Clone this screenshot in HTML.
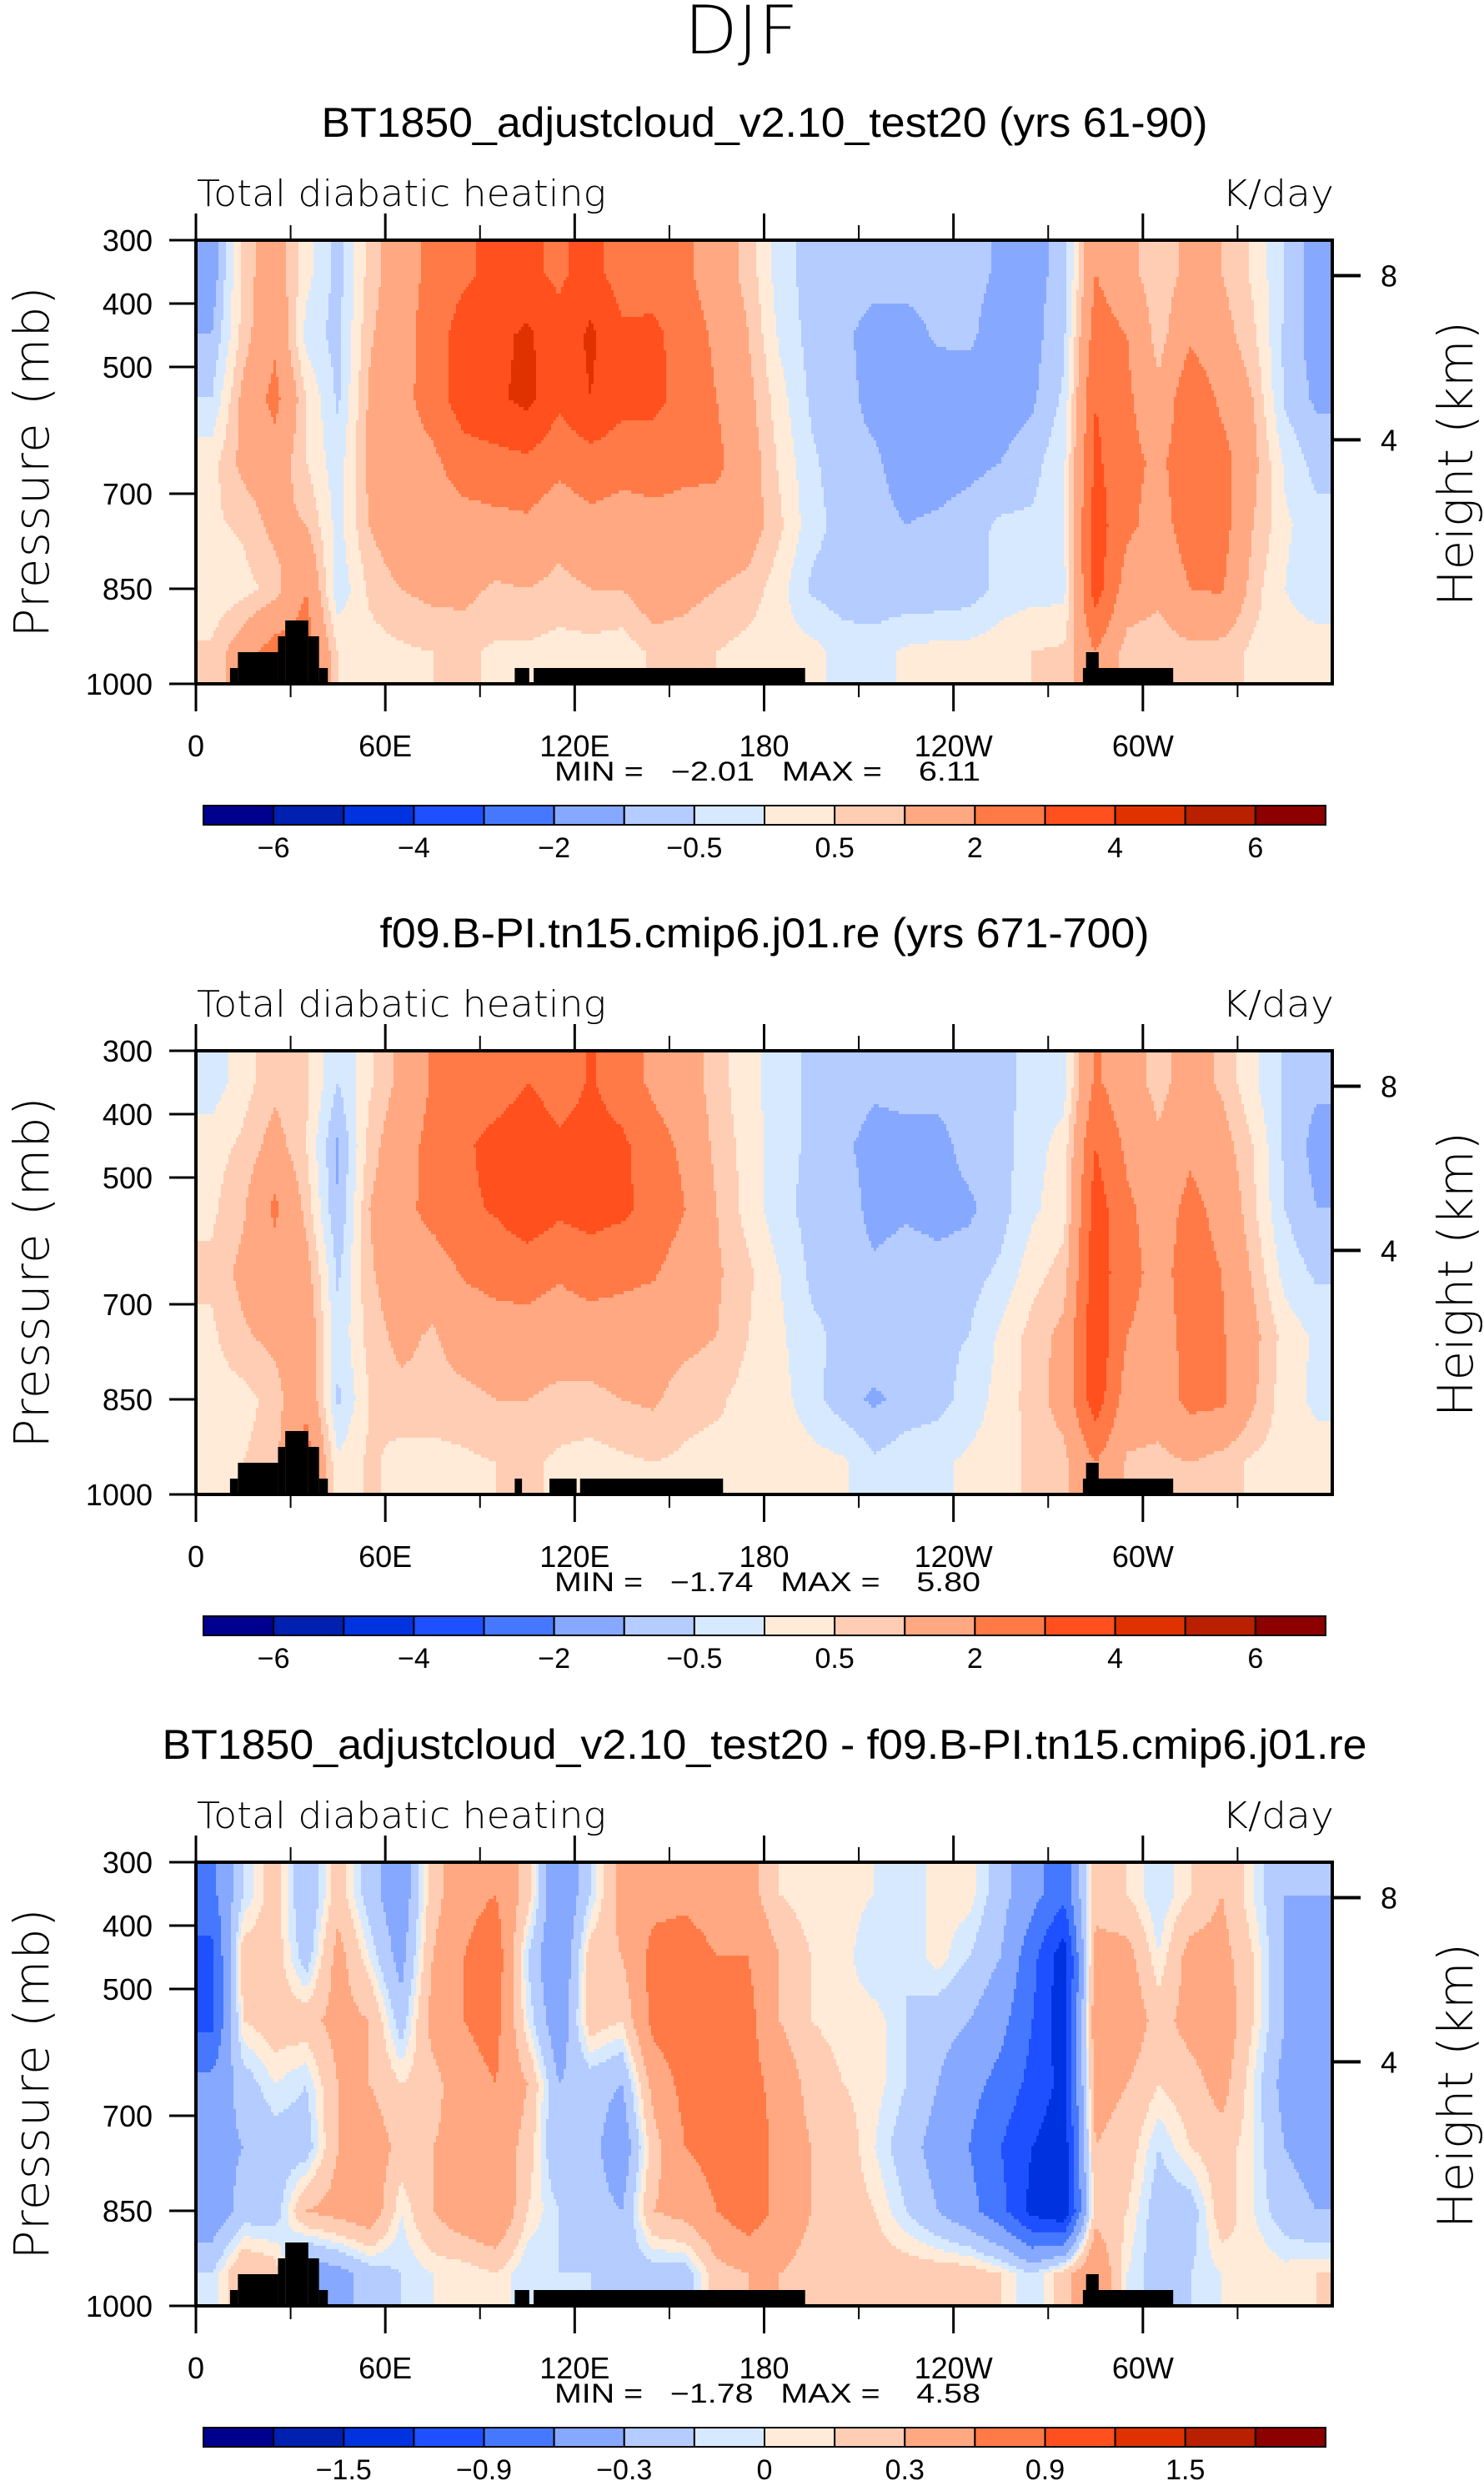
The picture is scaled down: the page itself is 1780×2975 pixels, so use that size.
<!DOCTYPE html>
<html><head><meta charset="utf-8"><title>DJF Total diabatic heating</title>
<style>
html,body{margin:0;padding:0;background:#fff;}
svg{display:block;}
text{font-family:"Liberation Sans","DejaVu Sans",sans-serif;fill:#000;}
.thin{font-family:"DejaVu Sans","Liberation Sans",sans-serif;font-weight:200;}
.pre{white-space:pre;}
</style></head>
<body>
<svg id="fig" xmlns="http://www.w3.org/2000/svg" width="1780" height="2975" viewBox="0 0 1780 2975">
<rect x="0" y="0" width="1780" height="2975" fill="#fff"/>
<text class="thin" x="889" y="64" font-size="80" text-anchor="middle" textLength="137" lengthAdjust="spacingAndGlyphs">DJF</text>
</svg>
<script>
// ---------- data ----------
const pressureCenters = [350,450,550,650,750,850,950];
const lonCenters = [5,15,25,35,45,55,65,75,85,95,105,115,125,135,145,155,165,175,185,195,205,215,225,235,245,255,265,275,285,295,305,315,325,335,345,355];
const panelTitles = ["BT1850_adjustcloud_v2.10_test20 (yrs 61-90)","f09.B-PI.tn15.cmip6.j01.re (yrs 671-700)","BT1850_adjustcloud_v2.10_test20 - f09.B-PI.tn15.cmip6.j01.re"];
const minValues = ["−2.01","−1.74","−1.78"];
const maxValues = ["6.11","5.80","4.58"];
const xTickLons = [0,60,120,180,240,300];
const xTickLabels = ["0","60E","120E","180","120W","60W"];
const xMinorLons = [30,90,150,210,270,330];
const yTickPressures = [300,400,500,700,850,1000];
const heightTicksKm = [8,4];
const heightTickPressures = [356,615];
const levelsAbs = [-6,-5,-4,-3,-2,-1,-0.5,0,0.5,1,2,3,4,5,6];
const levelsDiff = [-1.8,-1.5,-1.2,-0.9,-0.6,-0.3,-0.1,0,0.1,0.3,0.6,0.9,1.2,1.5,1.8];
const cbarLabelsAbs = ["−6","−4","−2","−0.5","0.5","2","4","6"];
const cbarLabelsDiff = ["−1.5","−0.9","−0.3","0","0.3","0.9","1.5"];
const fillColors = ["#00008f","#0020b0","#0033e0","#1e50ff","#4678ff","#86a8ff","#b4ccff","#d7e9ff","#ffebd8","#ffcdb3","#ffa882","#ff7a46","#ff501e","#e03200","#b82000","#8c0000"];
// topography [lonStart, lonEnd, topPressure]
const topo1 = [[10.8,13.3,975],[13.3,26,950],[26,28.3,925],[28.3,35.6,900],[35.6,39,925],[39,41.8,975],[101,105.6,975],[107,193,975],[282,286,950],[281,309.6,975]];
const topo2 = [[10.8,13.3,975],[13.3,26,950],[26,28.3,925],[28.3,35.6,900],[35.6,39,925],[39,41.8,975],[101,103.3,975],[112,120.6,975],[121.7,167,975],[282,286,950],[281,309.6,975]];
// field values: one array per longitude column, top (350mb) to bottom (950mb)
const field1 = [
[-1.4,-1.0,-0.5,0.3,0.4,0.1,0.6],[0.7,0.7,1.2,1.2,0.6,0.3,1.5],[1.5,1.8,2.3,1.5,1.2,0.7,2.5],[0.2,-0.2,0.5,0.5,1.0,2.0,2.5],
[-0.7,-0.7,-0.6,-0.3,-0.2,-0.4,0.5],[0.7,0.9,1.1,1.2,1.0,0.6,0.3],[1.5,1.6,1.7,1.6,1.6,1.0,0.4],[2.3,2.5,2.4,1.8,1.5,1.2,0.5],
[2.8,3.5,3.6,2.5,1.6,1.2,0.6],[3.3,3.7,3.8,2.7,1.7,0.9,0.4],[3.2,4.2,4.3,2.8,1.8,1.0,0.4],[2.8,3.3,3.2,2.3,1.3,0.8,0.3],
[3.4,4.2,4.0,2.6,1.7,1.0,0.3],[2.5,3.2,3.3,2.4,1.5,1.0,0.2],[2.6,3.2,3.3,2.4,1.7,1.5,0.6],[2.2,2.6,2.6,2.2,1.7,1.2,0.7],
[1.4,1.8,2.0,2.2,1.6,1.0,0.5],[0.8,1.0,1.2,1.4,1.4,0.8,0.3],[-0.3,-0.1,0.2,0.4,0.6,0.2,0.2],[-0.7,-0.7,-0.6,-0.4,-0.3,-0.6,0.2],
[-0.8,-0.9,-0.8,-0.8,-0.7,-0.8,-0.2],[-0.8,-1.2,-1.2,-0.9,-0.8,-0.9,-0.2],[-0.7,-1.3,-1.4,-1.3,-1.0,-0.9,0.1],[-0.7,-0.9,-1.4,-1.3,-0.9,-0.9,0.2],
[-0.8,-0.9,-1.3,-1.2,-0.7,-0.8,0.2],[-1.1,-1.3,-1.3,-1.0,-0.4,-0.3,0.3],[-1.2,-1.2,-1.1,-0.7,-0.4,-0.2,0.5],[-0.8,-0.6,-0.4,-0.1,0.0,-0.2,0.6],
[2.0,2.5,3.0,3.2,3.5,3.5,2.0],[1.2,2.0,2.2,2.3,2.2,1.5,0.7],[0.6,0.7,1.2,1.8,1.6,1.2,0.6],[1.2,1.8,2.8,2.6,2.5,2.0,0.8],
[1.0,1.3,1.8,2.4,2.4,2.1,0.7],[0.4,0.6,1.0,1.2,1.0,0.7,0.4],[-0.5,-0.6,-0.6,-0.1,0.1,0.0,0.4],[-1.3,-1.3,-1.1,-0.7,-0.3,-0.5,0.4]];
const field2 = [
[-0.3,0.3,0.4,0.6,0.4,0.3,0.2],[0.3,0.6,0.9,1.2,0.9,0.3,0.5],[0.8,1.3,2.2,1.5,1.2,0.7,0.8],[0.6,0.5,0.8,1.3,1.6,1.8,2.5],
[-0.5,-1.1,-1.0,-0.6,-0.4,-0.6,0.1],[0.4,0.7,1.0,0.9,0.7,0.5,0.6],[1.2,1.6,1.7,1.5,1.2,0.8,0.3],[2.1,2.3,2.3,1.5,0.9,0.8,0.3],
[2.4,2.8,2.8,2.1,1.4,0.8,0.4],[2.4,3.4,3.1,2.3,1.6,1.0,0.5],[3.0,3.8,3.7,2.4,1.6,1.0,0.6],[2.5,3.2,3.2,2.1,1.5,0.8,0.4],
[3.1,3.4,3.4,2.4,1.5,0.8,0.3],[2.5,3.2,3.2,2.2,1.6,1.0,0.4],[1.8,2.4,2.7,2.1,1.4,1.1,0.5],[1.4,1.8,2.0,1.5,1.2,0.7,0.4],
[0.7,0.8,1.0,1.1,1.0,0.6,0.3],[0.2,0.3,0.3,0.6,0.5,0.3,0.5],[-0.3,-0.3,-0.3,0.0,0.1,0.2,0.3],[-0.6,-0.6,-0.7,-0.6,-0.4,-0.3,0.2],
[-0.7,-0.9,-0.7,-0.7,-0.6,-0.8,0.1],[-0.9,-1.2,-1.2,-0.9,-0.6,-1.1,-0.4],[-0.8,-1.2,-1.1,-0.7,-0.7,-0.8,-0.2],[-0.8,-1.2,-1.2,-0.8,-0.6,-0.7,-0.1],
[-0.7,-0.8,-1.1,-0.7,-0.5,-0.3,0.1],[-0.7,-0.7,-0.7,-0.4,0.1,0.2,0.3],[-0.3,-0.2,-0.1,0.3,0.7,0.7,0.6],[-0.2,0.2,0.3,0.7,1.2,1.3,0.8],
[2.2,3.0,3.5,3.6,3.8,3.6,2.0],[1.3,1.8,2.2,2.3,2.0,1.5,0.9],[0.8,1.1,1.5,1.7,1.6,1.4,0.8],[1.3,1.8,2.3,2.4,2.3,2.3,1.0],
[0.9,1.3,1.7,2.0,2.1,2.2,0.7],[0.1,0.5,0.6,0.9,1.2,1.1,0.4],[-0.6,-0.6,-0.5,-0.2,0.3,0.2,0.3],[-0.9,-1.2,-1.0,-0.6,-0.1,-0.1,0.2]];
const field3 = [
[-0.7,-1.0,-1.0,-0.5,-0.4,-0.5,-0.1],[-0.1,0.2,0.1,-0.2,-0.3,-0.2,0.3],[0.2,0.2,0.2,0.0,-0.2,-0.2,0.2],[-0.3,-0.2,0.2,-0.1,-0.2,0.3,-0.5],
[0.2,0.4,0.4,0.3,0.3,0.4,-0.4],[-0.2,0.0,0.3,0.3,0.5,0.5,-0.2],[-0.5,-0.4,-0.2,0.1,0.2,0.0,-0.1],[0.2,0.3,0.4,0.2,0.3,0.3,0.0],
[0.5,0.6,0.6,0.5,0.4,0.5,0.0],[0.6,0.8,0.7,0.6,0.5,0.6,0.1],[0.2,-0.1,0.0,0.3,0.2,0.1,-0.1],[-0.6,-0.6,-0.5,-0.3,-0.3,-0.1,-0.1],
[-0.1,0.2,0.2,-0.2,-0.2,-0.2,-0.1],[0.4,0.3,0.1,-0.3,-0.5,-0.3,-0.2],[0.5,0.7,0.7,0.4,0.2,0.3,-0.2],[0.5,0.8,0.8,0.7,0.6,0.4,-0.2],
[0.4,0.6,0.8,0.8,0.7,0.6,0.2],[0.4,0.6,0.7,0.7,0.8,0.8,0.3],[0.1,0.3,0.3,0.5,0.5,0.5,0.3],[0.0,0.1,0.1,0.2,0.3,0.3,0.2],
[0.05,0.05,0.05,0.1,0.2,0.2,0.2],[0.0,-0.1,0.05,0.05,0.0,0.1,0.2],[-0.1,-0.1,-0.1,-0.1,-0.2,-0.1,0.2],[0.05,0.05,-0.2,-0.3,-0.4,-0.3,0.2],
[0.05,-0.1,-0.3,-0.5,-0.6,-0.5,0.2],[-0.2,-0.3,-0.5,-0.7,-0.9,-0.8,0.1],[-0.5,-0.8,-0.9,-1.0,-1.2,-1.3,-0.1],[-0.8,-1.4,-1.4,-1.3,-1.4,-1.5,0.2],
[0.2,0.4,0.5,0.4,0.3,0.2,0.6],[0.1,0.4,0.5,0.3,0.2,0.1,0.0],[-0.1,0.0,0.2,0.1,-0.1,-0.2,-0.2],[0.1,0.4,0.4,0.2,0.1,-0.2,-0.1],
[0.3,0.4,0.5,0.4,0.2,0.2,0.0],[0.0,0.1,0.1,0.0,0.0,0.0,0.1],[-0.3,-0.3,-0.3,-0.4,-0.3,-0.2,0.05],[-0.3,-0.5,-0.6,-0.6,-0.4,-0.3,0.1]];

// ---------- layout ----------
const NS = "http://www.w3.org/2000/svg";
const svg = document.getElementById('fig');
const X0 = 235, W = 1363, H = 532;
const panelTops = [288, 1260, 2233];
function xScale(lon){ return X0 + lon/360*W; }
function yScale(top, p){ return top + (p-300)/700*H; }
function mk(tag, attrs, parent){
  const e = document.createElementNS(NS, tag);
  for (const k in attrs) e.setAttribute(k, attrs[k]);
  (parent||svg).appendChild(e);
  return e;
}
function interp(field, lon, p){
  let fc = (lon - lonCenters[0]) / 10; fc = Math.max(0, Math.min(lonCenters.length-1, fc));
  let fr = (p - pressureCenters[0]) / 100; fr = Math.max(0, Math.min(pressureCenters.length-1, fr));
  const c0 = Math.floor(fc), r0 = Math.floor(fr);
  const c1 = Math.min(c0+1, lonCenters.length-1), r1 = Math.min(r0+1, pressureCenters.length-1);
  const tc = fc - c0, tr = fr - r0;
  const a = field[c0][r0]*(1-tc) + field[c1][r0]*tc;
  const b = field[c0][r1]*(1-tc) + field[c1][r1]*tc;
  return a*(1-tr) + b*tr;
}
function colorIndex(v, levels){
  let i = 0; while (i < levels.length && v >= levels[i]) i++;
  return i;
}

function drawPanel(k, field, levels, topo, cbarLabels, cbarLabelIdx){
  const top = panelTops[k], bottom = top + H;
  const g = mk('g', {});
  
  

  const t = mk('text', {x: 917, y: top-124, 'font-size': 50, 'text-anchor': 'middle', textLength: [1063,923,1445][k], lengthAdjust: 'spacingAndGlyphs'}, g);
  t.textContent = panelTitles[k];
  
  

  const l = mk('text', {class: 'thin', x: 236, y: top-41, 'font-size': 44, textLength: 491, lengthAdjust: 'spacingAndGlyphs'}, g);
  l.textContent = 'Total diabatic heating';
  
  
  const u = mk('text', {class: 'thin', x: 1600, y: top-41, 'font-size': 44, 'text-anchor': 'end', textLength: 134, lengthAdjust: 'spacingAndGlyphs'}, g);
  u.textContent = 'K/day';
  
  

  // contour fill
  const fg = mk('g', {'shape-rendering': 'crispEdges'}, g);
  
  
  const sw = 3, sh = 4;
  const nx = Math.ceil(W/sw), ny = Math.ceil(H/sh);
  for (let j = 0; j < ny; j++){
    const y = top + j*sh;
    const p = 300 + ((j+0.5)*sh)/H*700;
    let runStart = 0, runIdx = -1;
    for (let i = 0; i <= nx; i++){
      let idx = -2;
      if (i < nx){
        const lon = ((i+0.5)*sw)/W*360;
        idx = colorIndex(interp(field, lon, p), levels);
      }
      if (idx !== runIdx){
        if (runIdx >= 0){
          const x = X0 + runStart*sw;
          const w = Math.min((i - runStart)*sw, X0 + W - x);
          const r = mk('rect', {x: x, y: y, width: w + 0.6, height: Math.min(sh, top+H-y) + 0.6, fill: fillColors[runIdx]}, fg);
          
          
        }
        runStart = i; runIdx = idx;
      }
    }
  }
  // topography
  topo.forEach(function(b){
    const x1 = xScale(b[0]), x2 = xScale(b[1]);
    const r = mk('rect', {x: x1, y: yScale(top, b[2]), width: x2-x1, height: bottom - yScale(top, b[2]), fill: '#000'}, g);
    
    
  });
  // frame
  const fr = mk('rect', {x: X0, y: top, width: W, height: H, fill: 'none', stroke: '#000', 'stroke-width': 4}, g);
  
  
  // x ticks
  xTickLons.forEach(function(lon, i){
    const x = xScale(lon);
    const a = mk('line', {x1: x, y1: top, x2: x, y2: top-32, stroke: '#000', 'stroke-width': 3}, g);
    
    
    const b = mk('line', {x1: x, y1: bottom, x2: x, y2: bottom+33, stroke: '#000', 'stroke-width': 3}, g);
    
    
    const tl = mk('text', {x: x, y: bottom+87, 'font-size': 36, 'text-anchor': 'middle'}, g);
    tl.textContent = xTickLabels[i];
    
    
  });
  xMinorLons.forEach(function(lon){
    const x = xScale(lon);
    const a = mk('line', {x1: x, y1: top, x2: x, y2: top-18, stroke: '#000', 'stroke-width': 2}, g);
    
    
    const b = mk('line', {x1: x, y1: bottom, x2: x, y2: bottom+16, stroke: '#000', 'stroke-width': 2}, g);
    
    
  });
  // y ticks
  yTickPressures.forEach(function(p){
    const y = yScale(top, p);
    const a = mk('line', {x1: X0, y1: y, x2: X0-32, y2: y, stroke: '#000', 'stroke-width': 3}, g);
    
    
    const tl = mk('text', {x: 183, y: y+13, 'font-size': 36, 'text-anchor': 'end'}, g);
    tl.textContent = String(p);
    
    
  });
  heightTickPressures.forEach(function(p, i){
    const y = yScale(top, p);
    const a = mk('line', {x1: X0+W, y1: y, x2: X0+W+34, y2: y, stroke: '#000', 'stroke-width': 4}, g);
    
    
    const tl = mk('text', {x: 1666, y: y+13, 'font-size': 36, 'text-anchor': 'middle'}, g);
    tl.textContent = String(heightTicksKm[i]);
    
    
  });
  // axis titles
  const yt = mk('text', {class: 'thin', x: 0, y: 0, 'font-size': 58, 'text-anchor': 'middle', textLength: 421, lengthAdjust: 'spacing', transform: 'translate(58,' + (top+266) + ') rotate(-90)'}, g);
  yt.textContent = 'Pressure (mb)';
  
  
  const ht = mk('text', {class: 'thin', x: 0, y: 0, 'font-size': 58, 'text-anchor': 'middle', textLength: 342, lengthAdjust: 'spacing', transform: 'translate(1766,' + (top+268) + ') rotate(-90)'}, g);
  ht.textContent = 'Height (km)';
  
  
  // min max
  const mm = mk('text', {class: 'pre', x: 665, y: bottom+116, 'font-size': 32, textLength: 511, lengthAdjust: 'spacingAndGlyphs'}, g);
  mm.textContent = 'MIN =   ' + minValues[k] + '   MAX =    ' + maxValues[k];
  
  
  // colorbar
  const cbX = 244, cbW = 1346, cbY = bottom + 146, cbH = 23, bw = cbW/16;
  fillColors.forEach(function(c, i){
    const r = mk('rect', {x: cbX + i*bw, y: cbY, width: bw, height: cbH, fill: c, stroke: '#000', 'stroke-width': 2}, g);
    
    
  });
  cbarLabels.forEach(function(s, i){
    const x = cbX + (cbarLabelIdx[i]+1)*bw;
    const tl = mk('text', {x: x, y: bottom+208, 'font-size': 34, 'text-anchor': 'middle'}, g);
    tl.textContent = s;
    
    
  });
}
drawPanel(0, field1, levelsAbs, topo1, cbarLabelsAbs, [0,2,4,6,8,10,12,14]);
drawPanel(1, field2, levelsAbs, topo2, cbarLabelsAbs, [0,2,4,6,8,10,12,14]);
drawPanel(2, field3, levelsDiff, topo1, cbarLabelsDiff, [1,3,5,7,9,11,13]);
</script>
</body></html>
